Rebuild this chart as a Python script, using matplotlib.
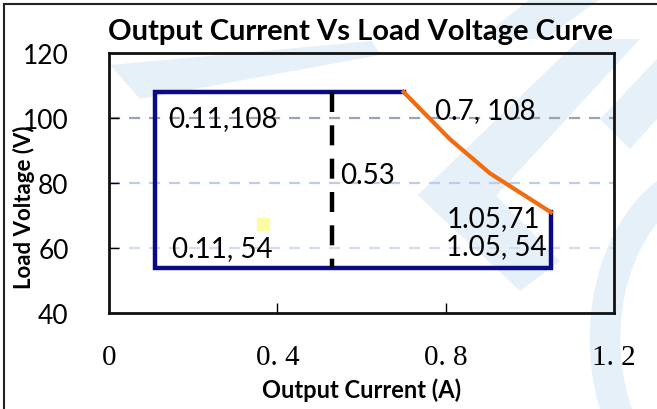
import matplotlib
matplotlib.use("Agg")
import matplotlib.pyplot as plt
from matplotlib.patches import Polygon, Rectangle, Arc

# datos
rect_x = [0.7, 0.11, 0.11, 1.05, 1.05]
rect_y = [108, 108, 54, 54, 71]
curva_x = [0.7, 0.81, 0.905, 1.05]
curva_y = [108, 93.5, 83, 71]
limite_x = [0.53, 0.53]
limite_y = [108, 54]
punto_x = [0.365]
punto_y = [67.5]

xticks = [0, 0.4, 0.8, 1.2]
xtick_labels = ["0", "0. 4", "0. 8", "1. 2"]
yticks = [40, 60, 80, 100, 120]
grid_y = [100, 80, 60]
grid_colores = ["#98a4b6", "#bccde6", "#d2def0"]

etiquetas = [("0.11,108", 0.14, 100, "left"),
             ("0.11, 54", 0.15, 60, "left"),
             ("0.7, 108", 0.775, 102.5, "left"),
             ("0.53", 0.55, 82.5, "left"),
             ("1.05,71", 1.025, 69.3, "right"),
             ("1.05, 54", 1.04, 60.5, "right")]

W, H = 657, 410
fig = plt.figure(figsize=(W / 100, H / 100), dpi=100)
fig.patch.set_facecolor("white")

def px(pts):
    return [(x / W, 1 - y / H) for x, y in pts]

# marca de agua (aproximada)
agua = "#e6f0f8"
formas = [
    [(110, 66), (372, 42), (380, 56), (140, 100)],
    [(418, 196), (580, 40), (640, 40), (460, 236)],
    [(418, 196), (460, 160), (560, 262), (520, 292)],
    [(480, 40), (530, 0), (600, 0), (545, 40)],
    [(600, 120), (657, 60), (657, 120), (630, 150)],
]
for f in formas:
    fig.patches.append(Polygon(px(f), closed=True, transform=fig.transFigure,
                               facecolor=agua, edgecolor="none", zorder=0))
fig.patches.append(Arc((720 / W, 1 - 340 / H), 230 / W, 330 / H,
                       theta1=90, theta2=270, transform=fig.transFigure,
                       color=agua, lw=22, zorder=0))

# marco exterior
fig.patches.append(Rectangle((4 / W, -0.05), 1.1, 1 - 5 / H + 0.05,
                             transform=fig.transFigure, fill=False,
                             edgecolor="#222222", lw=1.5, zorder=1))

ax = fig.add_axes([109 / W, 1 - 314 / H, 505 / W, 260 / H])
ax.set_facecolor("none")
ax.set_zorder(3)

for yv, c in zip(grid_y, grid_colores):
    ax.axhline(yv, color=c, lw=1.6, ls=(0, (5, 4)), zorder=1)

ax.plot(rect_x, rect_y, color="#0a0a82", lw=3.2, solid_joinstyle="miter",
        solid_capstyle="projecting", zorder=3)
ax.plot(curva_x, curva_y, color="#f06c0e", lw=3, zorder=4)
ax.plot(limite_x, limite_y, color="black", lw=3.2, ls=(0, (4.5, 3)), zorder=3)
ax.plot(punto_x, punto_y, marker="s", ms=9, color="#fbfba4", ls="none", zorder=3)

for txt, x, y, ha in etiquetas:
    ax.text(x, y, txt, ha=ha, va="center", fontsize=20, family="Lato", zorder=5)

ax.set_xlim(0, 1.2)
ax.set_ylim(40, 120)
ax.set_xticks(xticks[1:3])
ax.set_xticklabels([])
for x, lab in zip(xticks, xtick_labels):
    ax.text(x, -0.17, lab, transform=ax.get_xaxis_transform(), ha="center",
            va="center", fontsize=21, family="Liberation Serif")
ax.set_yticks(yticks)
ax.set_yticklabels([str(v) for v in yticks], family="Lato", fontsize=19)
ax.tick_params(axis="both", direction="in", length=7, width=1)
ax.tick_params(axis="y", pad=29)
for s in ax.spines.values():
    s.set_linewidth(2)
    s.set_color("#111111")

ax.set_xlabel("Output Current (A)", fontsize=17, fontweight="bold", family="Lato")
ax.set_ylabel("Load Voltage (V)", fontsize=16, fontweight="bold", family="Lato")
ax.yaxis.set_label_coords(-0.168, 0.41)
ax.xaxis.set_label_coords(0.5, -0.292)
ax.xaxis.label.set_va("center")
ax.yaxis.label.set_va("center")
fig.text(361 / W, 1 - 32 / H, "Output Current Vs Load Voltage Curve",
         ha="center", va="center", fontsize=21, fontweight="bold", family="Lato")

fig.savefig("out.png", dpi=100)
